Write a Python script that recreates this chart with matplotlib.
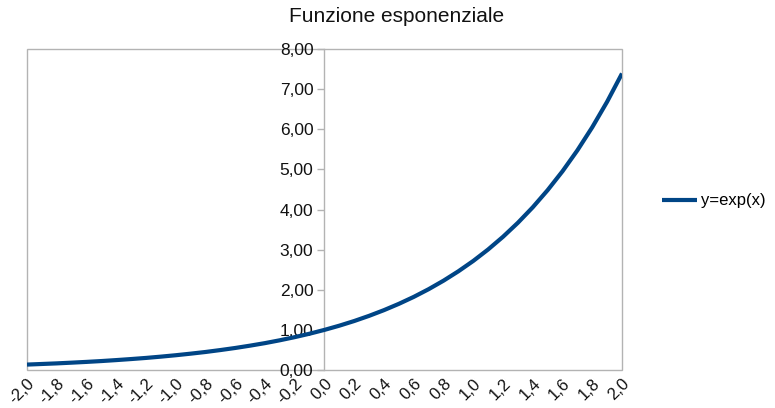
import matplotlib
matplotlib.use("Agg")
import matplotlib.pyplot as plt
from matplotlib.patches import Rectangle

plt.rcParams['font.family'] = ['Liberation Sans', 'DejaVu Sans']

x_vals = [-2.0, -1.9, -1.8, -1.7, -1.6, -1.5, -1.4, -1.3, -1.2, -1.1, -1.0,
          -0.9, -0.8, -0.7, -0.6, -0.5, -0.4, -0.3, -0.2, -0.1, 0.0,
          0.1, 0.2, 0.3, 0.4, 0.5, 0.6, 0.7, 0.8, 0.9, 1.0,
          1.1, 1.2, 1.3, 1.4, 1.5, 1.6, 1.7, 1.8, 1.9, 2.0]
y_vals = [0.135, 0.150, 0.165, 0.183, 0.202, 0.223, 0.247, 0.273, 0.301, 0.333, 0.368,
          0.407, 0.449, 0.497, 0.549, 0.607, 0.670, 0.741, 0.819, 0.905, 1.000,
          1.105, 1.221, 1.350, 1.492, 1.649, 1.822, 2.014, 2.226, 2.460, 2.718,
          3.004, 3.320, 3.669, 4.055, 4.482, 4.953, 5.474, 6.050, 6.686, 7.389]
series_name = "y=exp(x)"
title = "Funzione esponenziale"
x_ticks = [-2.0, -1.8, -1.6, -1.4, -1.2, -1.0, -0.8, -0.6, -0.4, -0.2, 0.0,
           0.2, 0.4, 0.6, 0.8, 1.0, 1.2, 1.4, 1.6, 1.8, 2.0]
x_tick_labels = ["-2,0", "-1,8", "-1,6", "-1,4", "-1,2", "-1,0", "-0,8", "-0,6", "-0,4", "-0,2", "0,0",
                 "0,2", "0,4", "0,6", "0,8", "1,0", "1,2", "1,4", "1,6", "1,8", "2,0"]
y_ticks = [0, 1, 2, 3, 4, 5, 6, 7, 8]
y_tick_labels = ["0,00", "1,00", "2,00", "3,00", "4,00", "5,00", "6,00", "7,00", "8,00"]

W, H = 775, 408
fig = plt.figure(figsize=(W / 100, H / 100), dpi=100)
L, R, T, B = 27, 622, 49, 370
ax = fig.add_axes([L / W, (H - B) / H, (R - L) / W, (B - T) / H])

line_color = "#004586"
frame_color = "#b3b3b3"

ax.plot(x_vals, y_vals, color=line_color, lw=3, label=series_name, solid_capstyle='butt', zorder=3)
ax.set_xlim(-2.0, 2.0)
ax.set_ylim(0, 8)

for s in ['top', 'right', 'bottom']:
    ax.spines[s].set_visible(False)
ax.spines['left'].set_position(('data', 0))
ax.spines['left'].set_color(frame_color)
ax.spines['left'].set_linewidth(1)
ax.add_patch(Rectangle((0, 0), 1, 1, transform=ax.transAxes, fill=False,
                       edgecolor=frame_color, lw=1, clip_on=False, zorder=1))

ax.set_yticks(y_ticks)
ax.set_yticklabels(y_tick_labels, fontsize=12.5, color="#111111")
ax.tick_params(axis='y', length=5, width=1, color=frame_color, pad=3)

ax.set_xticks(x_ticks)
ax.set_xticklabels(x_tick_labels, fontsize=12, color="#111111", rotation=45,
                   ha='right', va='top', rotation_mode='anchor')
ax.tick_params(axis='x', length=0, pad=4)

fig.text(397 / W, 1 - 17 / H, title, ha='center', va='center', fontsize=15, color="#111111")

fig.legend(loc='center left', bbox_to_anchor=(662 / W, 1 - 201 / H), frameon=False,
           fontsize=12, handlelength=2.1, handletextpad=0.25, borderaxespad=0,
           borderpad=0)

fig.savefig("out.png", dpi=100)
